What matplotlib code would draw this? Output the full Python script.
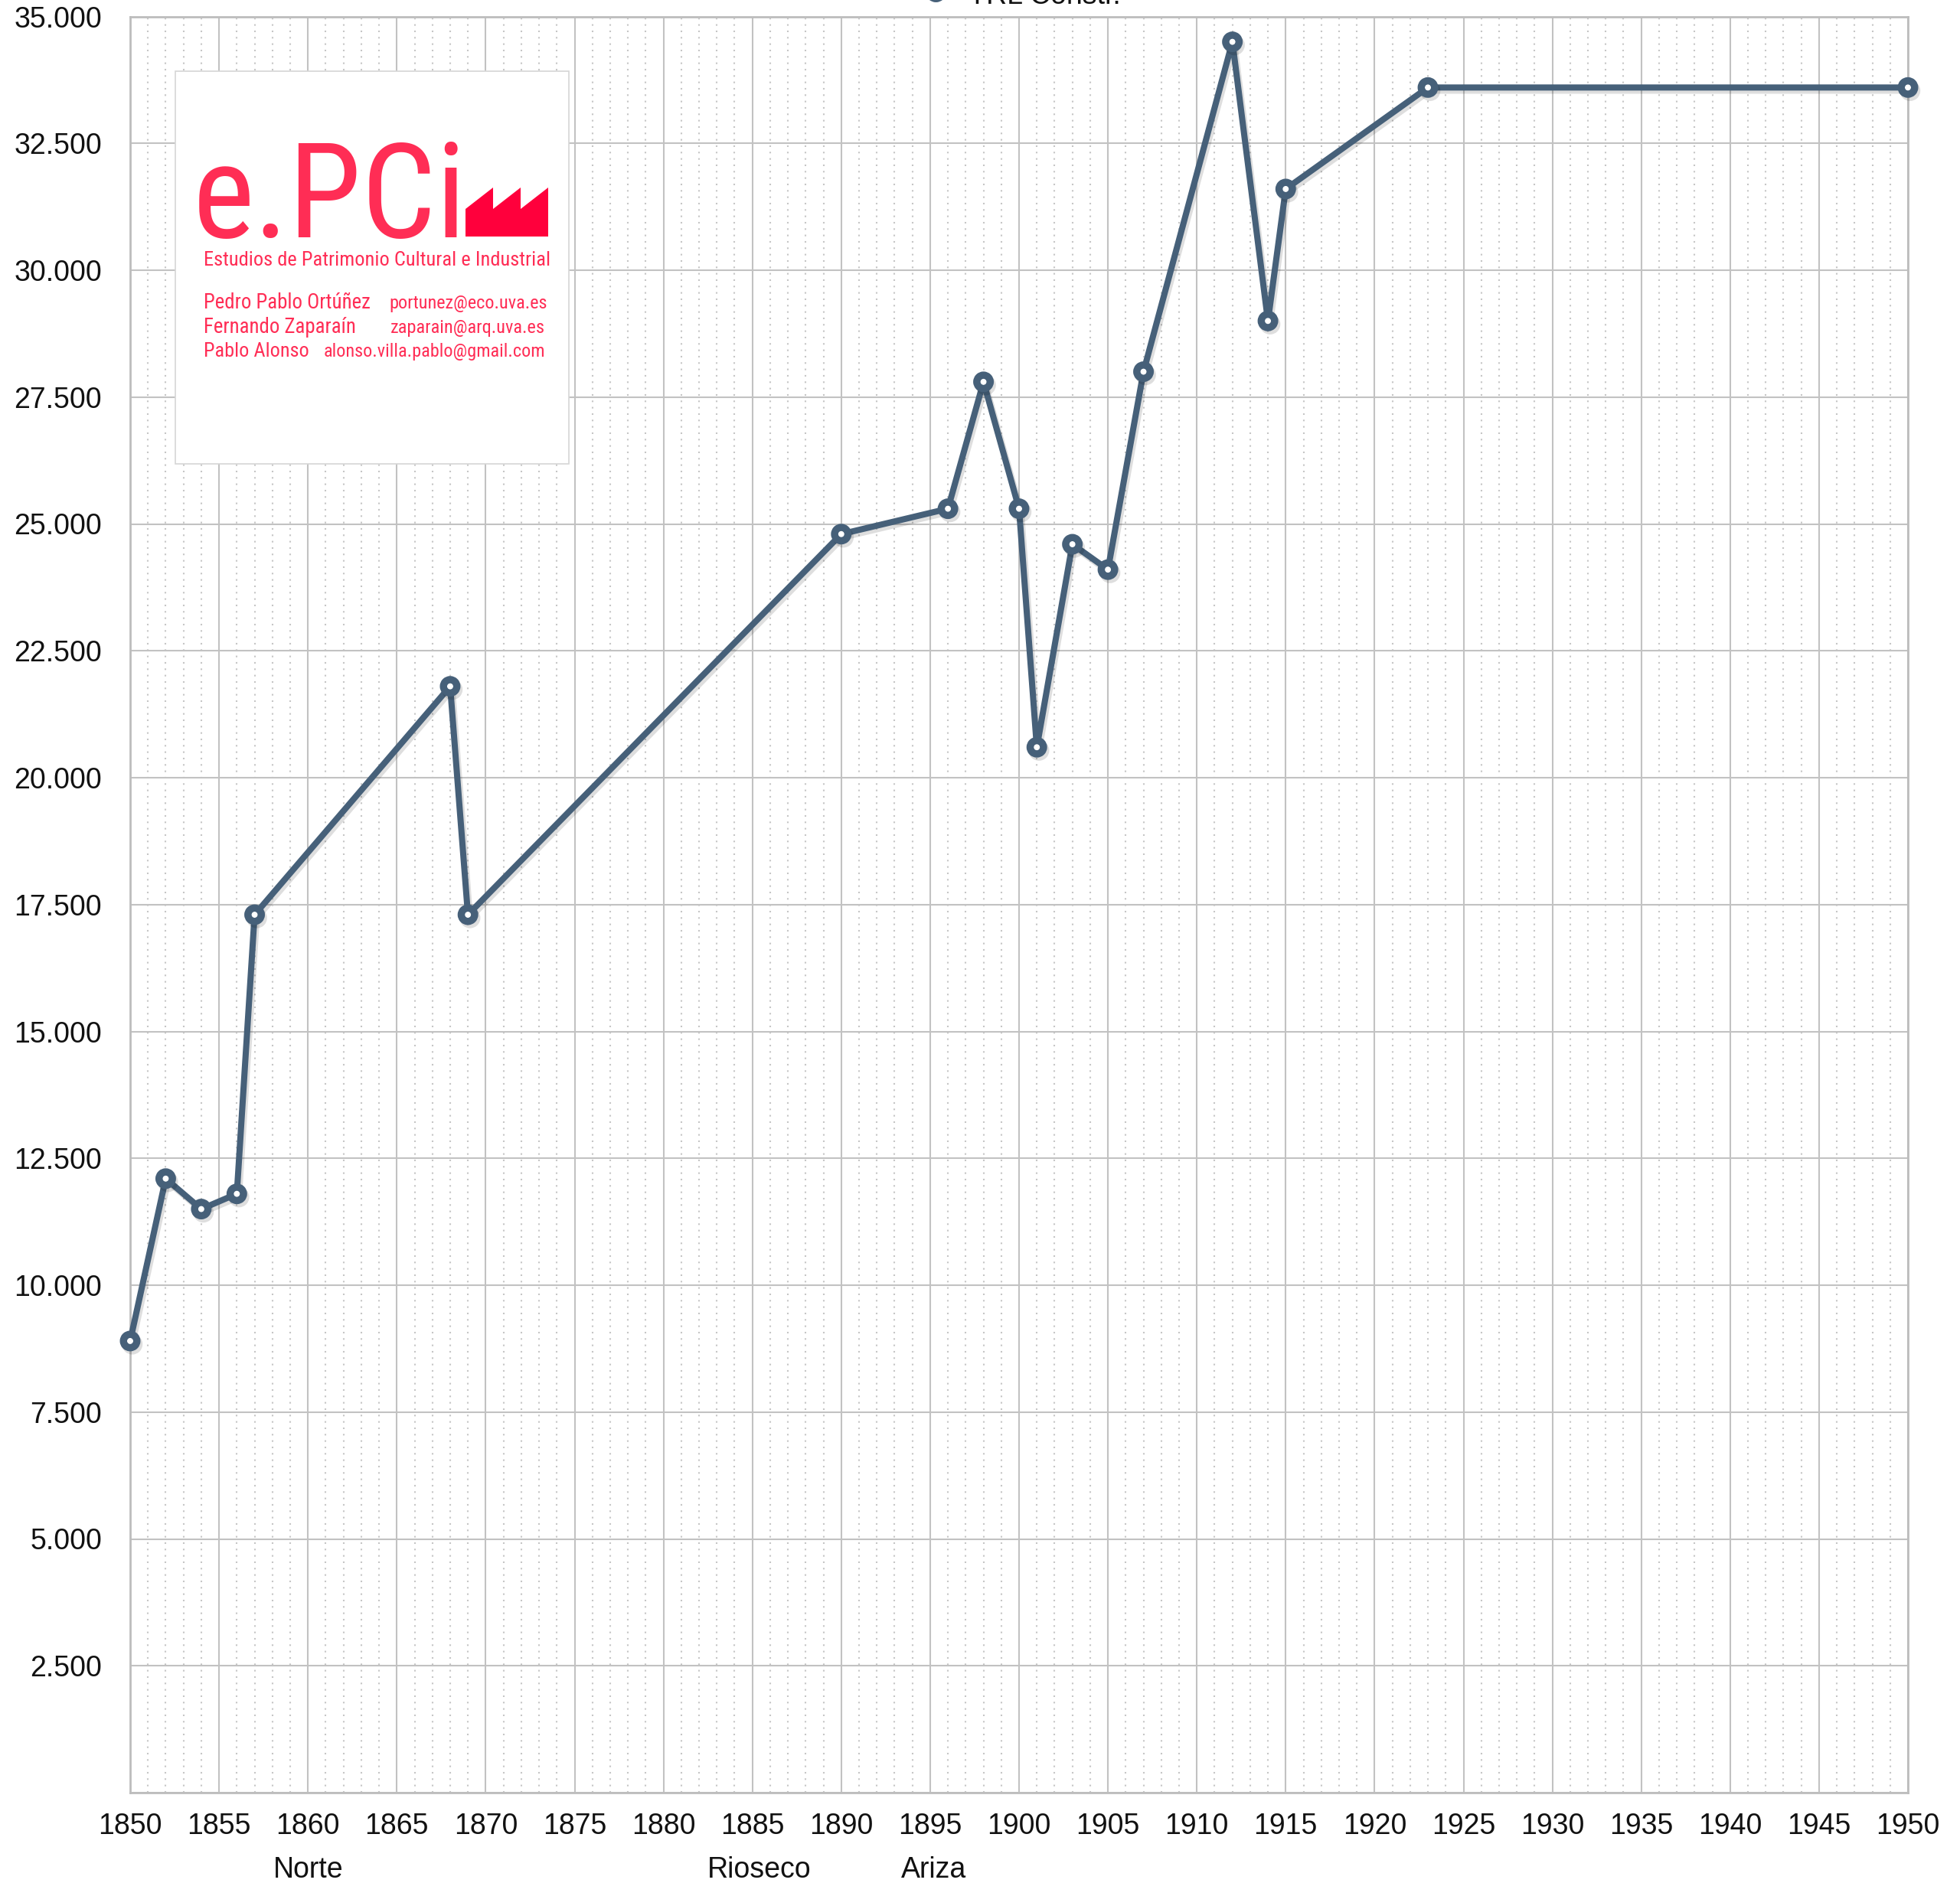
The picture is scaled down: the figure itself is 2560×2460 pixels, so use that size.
# Red ferroviaria: km construidos (TRL Constr.) 1850-1950
import matplotlib
matplotlib.use('Agg')
import matplotlib.pyplot as plt
import matplotlib.patheffects as pe
import matplotlib.transforms as mtransforms
from matplotlib.ticker import MultipleLocator, FuncFormatter
from matplotlib.patches import Rectangle, Polygon
from matplotlib.lines import Line2D

# data
years = [1850, 1852, 1854, 1856, 1857, 1868, 1869, 1890, 1896, 1898,
         1900, 1901, 1903, 1905, 1907, 1912, 1914, 1915, 1923, 1950]
km = [8900, 12100, 11500, 11800, 17300, 21800, 17300, 24800, 25300, 27800,
      25300, 20600, 24600, 24100, 28000, 34500, 29000, 31600, 33600, 33600]
series_name = 'TRL Constr.'
line_names = ['Norte', 'Rioseco', 'Ariza']
line_years = [1860, 1885.4, 1895.2]

logo_title = 'e.PCi'
logo_sub = 'Estudios de Patrimonio Cultural e Industrial'
authors = ['Pedro Pablo Ortúñez', 'Fernando Zaparaín', 'Pablo Alonso']
emails = ['portunez@eco.uva.es', 'zaparain@arq.uva.es', 'alonso.villa.pablo@gmail.com']

W, H = 2560, 2460
LINE = '#466079'
RED = '#FF2D55'


def fx(x):
    return x / W


def fy(y):
    return 1 - y / H


plt.rcParams['font.family'] = ['Liberation Sans', 'DejaVu Sans']

fig = plt.figure(figsize=(W / 100, H / 100), dpi=100)
renderer = fig.canvas.get_renderer()
ax = fig.add_axes([fx(170), fy(2342), (2492 - 170) / W, (2342 - 21.5) / H])
ax.set_xlim(1850, 1950)
ax.set_ylim(0, 35000)

ax.xaxis.set_major_locator(MultipleLocator(5))
ax.xaxis.set_minor_locator(MultipleLocator(1))
ax.yaxis.set_major_locator(MultipleLocator(2500))
ax.yaxis.set_major_formatter(
    FuncFormatter(lambda v, p: '' if v == 0 else f'{int(v):,}'.replace(',', '.')))

ax.grid(which='major', color='#C2C2C2', lw=1.5)
ax.grid(which='minor', axis='x', color='#C6C6C6', lw=1.5, ls=(0, (1, 3)))
ax.set_axisbelow(True)
ax.tick_params(which='both', length=0, labelcolor='#111111')
ax.tick_params(axis='y', pad=26.6, labelsize=27)
ax.tick_params(axis='x', pad=18.7, labelsize=27)
for s in ax.spines.values():
    s.set_color('#BDBDBD')
    s.set_linewidth(2)

shadow = [pe.SimpleLineShadow(offset=(2, -3), shadow_color='black', alpha=0.13), pe.Normal()]
ax.plot(years, km, color=LINE, lw=5.8, marker='o', ms=12.6, mew=6.8,
        mfc='white', mec=LINE, clip_on=False, zorder=3, path_effects=shadow)

# railway line names under the axis
trans = mtransforms.blended_transform_factory(ax.transData, fig.transFigure)
for name, yr in zip(line_names, line_years):
    ax.text(yr, fy(2453), name, transform=trans, ha='center', va='baseline',
            fontsize=27, color='#111111', clip_on=False)

# legend, cut by the top edge
fig.text(fx(1265), fy(5), series_name, fontsize=27, va='baseline', color='#111111')
fig.add_artist(Line2D([fx(1222)], [fy(-11)], transform=fig.transFigure, marker='o',
                      ms=12.6, mew=6.8, mfc='white', mec=LINE, ls='none'))

# logo box
fig.add_artist(Rectangle((fx(228.7), fy(606)), (743 - 228.7) / W, (606 - 92.5) / H,
                         transform=fig.transFigure, facecolor='white',
                         edgecolor='#D6D6D6', lw=1.2, zorder=5))
factory = [(608, 309), (608, 273), (644, 245), (644, 273), (680, 245),
           (680, 273), (716, 245), (716, 309)]
fig.add_artist(Polygon([(fx(x), fy(y)) for x, y in factory], closed=True,
                       transform=fig.transFigure, facecolor='#FF003C',
                       edgecolor='none', zorder=6))

logo_font = ['Liberation Sans Narrow', 'Noto Sans Condensed', 'Roboto Condensed',
             'Liberation Sans']


def logo_text(s, x0, x1, base, size, lo=0.0, ha='left'):
    # fit the text in the width it takes in the logo (a little growth allowed)
    t = fig.text(fx(x0), fy(base), s, fontsize=size, color=RED, va='baseline',
                 family=logo_font, zorder=7)
    w = t.get_window_extent(renderer).width
    t.set_fontsize(size * max(min((x1 - x0) / w, 1.05), lo))
    if ha == 'right':
        t.set_x(fx(x1))
        t.set_ha('right')
    return t


logo_text(logo_title, 252, 610, 310, 130)
logo_text(logo_sub, 266, 718, 347, 18.4)

for name, mail, yb, nx, mx in zip(authors, emails, [403, 435, 466],
                                  [485, 467, 403], [(510, 715), (511, 712), (431, 712)]):
    logo_text(name, 266, nx, yb, 18.4)
    logo_text(mail, mx[0], mx[1], yb, 18.4, lo=0.95, ha='right')

fig.savefig('out.png', dpi=100)
